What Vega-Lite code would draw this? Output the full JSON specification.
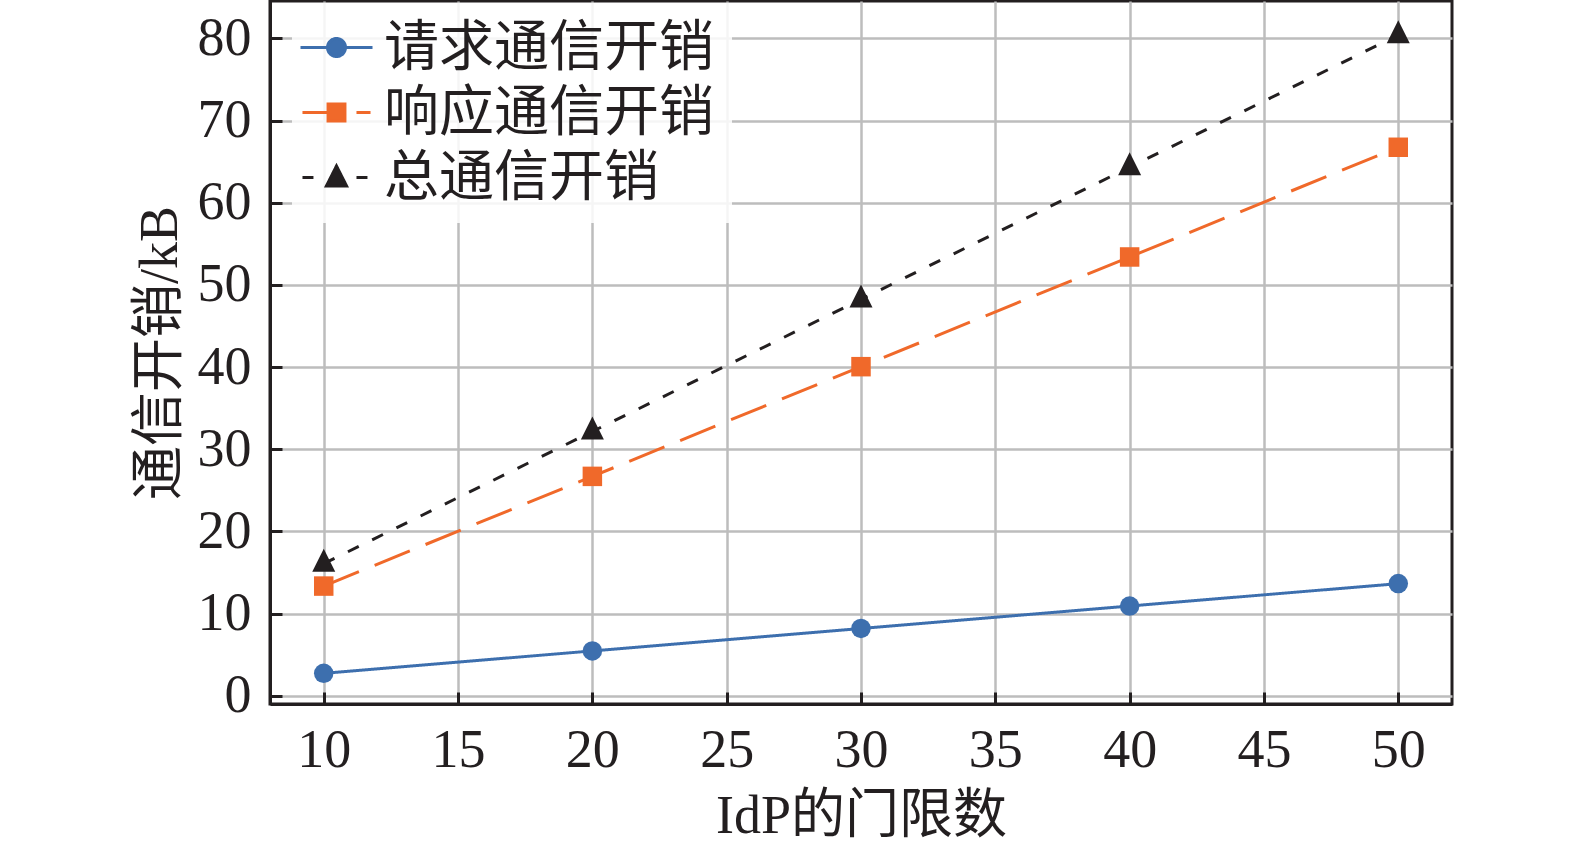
{
  "$schema": "https://vega.github.io/schema/vega-lite/v6.json",
  "width": 1182,
  "height": 703,
  "autosize": {"type": "none"},
  "padding": {"left": 270, "top": 1, "right": 123, "bottom": 152},
  "background": "white",
  "data": {
    "values": [
      {"series": "请求通信开销", "threshold": 10, "overhead": 2.73},
      {"series": "请求通信开销", "threshold": 20, "overhead": 5.46},
      {"series": "请求通信开销", "threshold": 30, "overhead": 8.19},
      {"series": "请求通信开销", "threshold": 40, "overhead": 10.92},
      {"series": "请求通信开销", "threshold": 50, "overhead": 13.65},
      {"series": "响应通信开销", "threshold": 10, "overhead": 13.35},
      {"series": "响应通信开销", "threshold": 20, "overhead": 26.7},
      {"series": "响应通信开销", "threshold": 30, "overhead": 40.05},
      {"series": "响应通信开销", "threshold": 40, "overhead": 53.4},
      {"series": "响应通信开销", "threshold": 50, "overhead": 66.75},
      {"series": "总通信开销", "threshold": 10, "overhead": 16.08},
      {"series": "总通信开销", "threshold": 20, "overhead": 32.16},
      {"series": "总通信开销", "threshold": 30, "overhead": 48.24},
      {"series": "总通信开销", "threshold": 40, "overhead": 64.32},
      {"series": "总通信开销", "threshold": 50, "overhead": 80.4}
    ]
  },
  "encoding": {
    "x": {
      "field": "threshold",
      "type": "quantitative",
      "scale": {"domain": [8, 52], "nice": false, "zero": false},
      "axis": {
        "title": "IdP的门限数",
        "values": [10, 15, 20, 25, 30, 35, 40, 45, 50],
        "labelPadding": 31,
        "titlePadding": 12
      }
    },
    "y": {
      "field": "overhead",
      "type": "quantitative",
      "scale": {"domain": [-1, 84.55], "nice": false, "zero": false},
      "axis": {
        "title": "通信开销/kB",
        "values": [0, 10, 20, 30, 40, 50, 60, 70, 80],
        "labelPadding": 31,
        "titlePadding": 10
      }
    },
    "color": {
      "field": "series",
      "type": "nominal",
      "scale": {
        "domain": ["请求通信开销", "响应通信开销", "总通信开销"],
        "range": ["#3d6fae", "#f0692a", "#231f20"]
      },
      "legend": {
        "title": null,
        "orient": "none",
        "legendX": 22,
        "legendY": 2,
        "symbolSize": 1296,
        "labelOffset": 20,
        "rowPadding": 9,
        "padding": 17,
        "fillColor": "rgba(255,255,255,0.85)",
        "labelLimit": 0,
        "encoding": {
          "symbols": {
            "shape": {"value": {"expr": "datum.value === '请求通信开销' ? 'M-2,0H2M0.5,0A0.5,0.5,0,1,1,-0.5,0A0.5,0.5,0,1,1,0.5,0Z' : datum.value === '响应通信开销' ? 'M-1.89,0H-0.47M1.11,0H1.89M-0.47,-0.47H0.47V0.47H-0.47Z' : 'M-1.89,0H-1.28M1.11,0H1.72M0,-0.64L0.56,0.47L-0.56,0.47Z'"}},
            "fill": {"value": {"expr": "scale('color', datum.value)"}},
            "stroke": {"value": {"expr": "scale('color', datum.value)"}},
            "strokeWidth": {"value": 3},
            "strokeDash": {"value": [1, 0]},
            "opacity": {"value": 1},
            "fillOpacity": {"value": 1},
            "strokeOpacity": {"value": 1}
          }
        }
      }
    }
  },
  "layer": [
    {
      "mark": {"type": "line", "strokeWidth": 3},
      "encoding": {
        "strokeDash": {
          "condition": [
            {"test": "datum.series === '响应通信开销'", "value": [38, 17]},
            {"test": "datum.series === '总通信开销'", "value": [12, 15]}
          ],
          "value": [1, 0]
        }
      }
    },
    {
      "mark": {"type": "point", "filled": true, "opacity": 1},
      "encoding": {
        "shape": {
          "condition": [
            {"test": "datum.series === '请求通信开销'", "value": "circle"},
            {"test": "datum.series === '响应通信开销'", "value": "square"}
          ],
          "value": "M0,-1.3L1,0.7L-1,0.7Z"
        },
        "size": {
          "condition": {"test": "datum.series === '总通信开销'", "value": 529},
          "value": 380
        }
      }
    }
  ],
  "config": {
    "font": "Liberation Serif, Noto Sans CJK SC",
    "view": {"stroke": "#231f20", "strokeWidth": 3},
    "axis": {
      "labelFont": "Liberation Serif, Noto Sans CJK SC",
      "labelFontSize": 54,
      "labelColor": "#231f20",
      "labelFlush": false,
      "labelOverlap": false,
      "titleFont": "Liberation Serif, Noto Sans CJK SC",
      "titleFontSize": 54,
      "titleFontWeight": "normal",
      "titleColor": "#231f20",
      "domainColor": "#231f20",
      "domainWidth": 3,
      "tickColor": "#231f20",
      "tickWidth": 3,
      "tickSize": -12,
      "grid": true,
      "gridColor": "#bdbdbd",
      "gridWidth": 2.5,
      "gridOpacity": 1
    },
    "legend": {
      "labelFont": "Liberation Serif, Noto Sans CJK SC",
      "labelFontSize": 55,
      "labelColor": "#231f20"
    }
  }
}
